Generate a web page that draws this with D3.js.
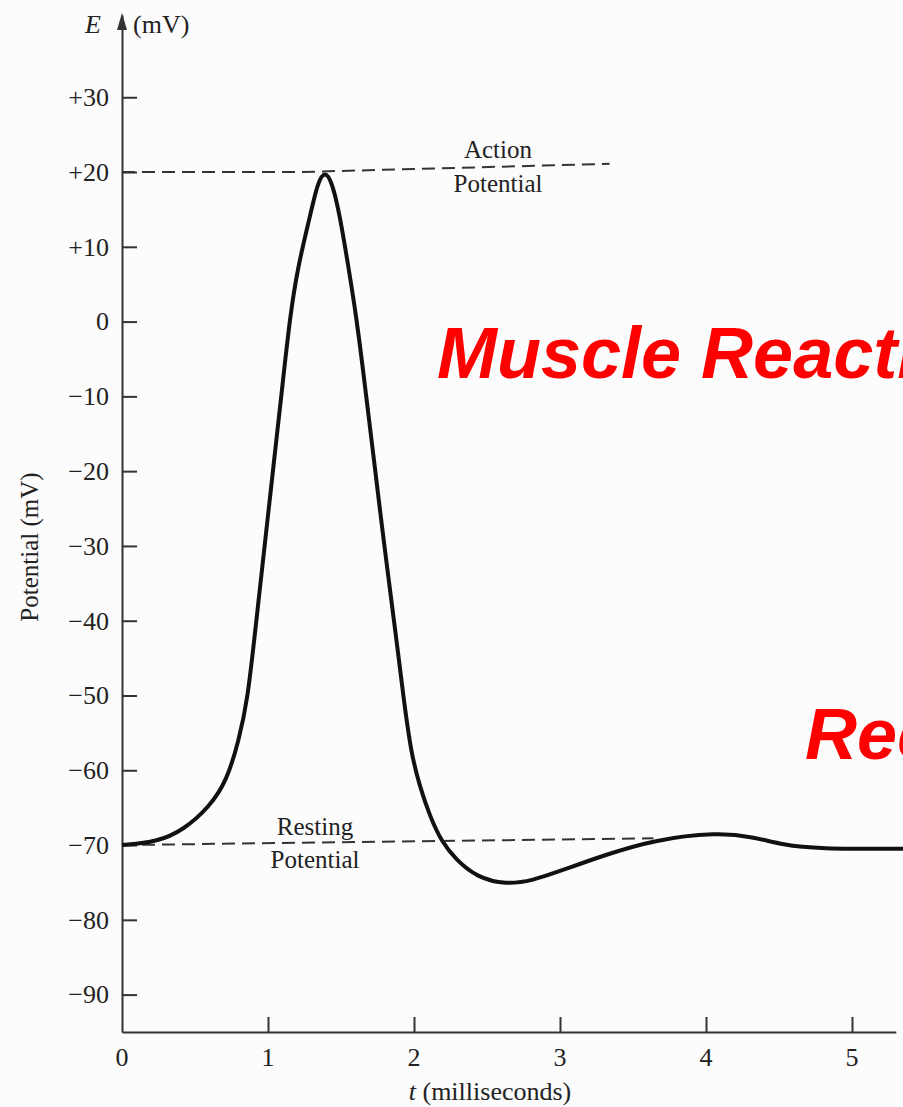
<!DOCTYPE html>
<html>
<head>
<meta charset="utf-8">
<script src="https://cdn.jsdelivr.net/npm/d3@7"></script>
<style>
  body { margin: 0; background: #fcfcfc; }
  svg { display: block; }
  .serif { font-family: 'Liberation Serif', 'Times New Roman', serif; fill: #222; }
</style>
</head>
<body>
<div id="chart"></div>
<script>
// time (ms) and membrane potential (mV)
const times = [0, 0.24, 0.42, 0.60, 0.72, 0.80, 0.86, 0.911, 0.961, 1.012, 1.050, 1.101, 1.151, 1.205, 1.288, 1.34, 1.39, 1.44, 1.493, 1.550, 1.605, 1.662, 1.717, 1.767, 1.815, 1.874, 1.93, 1.98, 2.04, 2.11, 2.19, 2.29, 2.43, 2.63, 2.82, 2.98, 3.14, 3.30, 3.64, 4.08, 4.32, 4.53, 4.76, 5.35]
const potentials = [-70, -69.6, -68.0, -64.9, -61.3, -56.0, -50.6, -41.6, -32.8, -23.8, -17.1, -8.2, 0.7, 7.4, 14.1, 18.6, 20.2, 18.6, 14.1, 7.4, 0.7, -8.2, -17.1, -25.2, -32.8, -41.6, -50.6, -57.7, -62.2, -66.2, -69.6, -72.0, -74.3, -75.3, -74.7, -73.6, -72.5, -71.4, -69.3, -68.3, -68.9, -70.0, -70.5, -70.5]

// dashed reference lines
const actionTimes = [0, 1.22, 3.34]
const actionValues = [20, 20, 21.1]
const restingTimes = [0, 3.64]
const restingValues = [-70, -69.1]

const yTicks = [30, 20, 10, 0, -10, -20, -30, -40, -50, -60, -70, -80, -90]
const xTicks = [1, 2, 3, 4, 5]
const xLabels = [0, 1, 2, 3, 4, 5]

const width = 903
const height = 1107

const svg = d3
  .select('#chart')
  .append('svg')
  .attr('width', width)
  .attr('height', height)

const xPositionScale = d3.scaleLinear().domain([0, 5.3]).range([122, 895.8])
const yPositionScale = d3.scaleLinear().domain([-95, 41]).range([1032, 15])

const line = d3
  .line()
  .x(d => xPositionScale(d[0]))
  .y(d => yPositionScale(d[1]))

// y axis
const yAxis = d3
  .axisLeft(yPositionScale)
  .tickValues(yTicks)
  .tickSizeInner(-15)
  .tickSizeOuter(0)
  .tickPadding(13)
  .tickFormat(d => {
    if (d > 0) return '+' + d
    if (d < 0) return '\u2212' + Math.abs(d)
    return '0'
  })

svg
  .append('g')
  .attr('class', 'y-axis')
  .attr('transform', 'translate(' + xPositionScale(0) + ',0)')
  .call(yAxis)

// x axis
const xAxis = d3
  .axisBottom(xPositionScale)
  .tickValues(xTicks)
  .tickSizeInner(-15)
  .tickSizeOuter(0)
  .tickFormat('')

svg
  .append('g')
  .attr('class', 'x-axis')
  .attr('transform', 'translate(0,' + yPositionScale(-95) + ')')
  .call(xAxis)

svg.selectAll('.domain, .tick line')
  .attr('stroke', '#333')
  .attr('stroke-width', 2)

svg.selectAll('.y-axis .tick text')
  .attr('class', 'serif')
  .style('font-size', '26px')
  .attr('fill', '#222')

// x tick labels (0 sits at the corner)
svg
  .selectAll('.x-label')
  .data(xLabels)
  .enter()
  .append('text')
  .attr('class', 'serif x-label')
  .attr('x', d => xPositionScale(d))
  .attr('y', yPositionScale(-95) + 34)
  .attr('text-anchor', 'middle')
  .style('font-size', '26px')
  .text(d => d)

// arrow on top of the y axis
const arrowTop = yPositionScale(41)
svg
  .append('path')
  .attr('d', 'M' + xPositionScale(0) + ',' + (arrowTop - 2) + ' l-5,17 l10,0 z')
  .attr('fill', '#333')

svg
  .append('text')
  .attr('class', 'serif')
  .attr('x', 101)
  .attr('y', 33)
  .attr('text-anchor', 'end')
  .style('font-size', '26px')
  .style('font-style', 'italic')
  .text('E')

svg
  .append('text')
  .attr('class', 'serif')
  .attr('x', 133)
  .attr('y', 33)
  .style('font-size', '26px')
  .text('(mV)')

svg
  .append('text')
  .attr('class', 'serif')
  .attr('transform', 'translate(38,547) rotate(-90)')
  .attr('text-anchor', 'middle')
  .style('font-size', '25px')
  .text('Potential (mV)')

const xTitle = svg
  .append('text')
  .attr('class', 'serif')
  .attr('x', 490)
  .attr('y', 1100)
  .attr('text-anchor', 'middle')
  .style('font-size', '26px')

xTitle.append('tspan').style('font-style', 'italic').text('t')
xTitle.append('tspan').text(' (milliseconds)')

// dashed lines
svg
  .append('path')
  .datum(actionTimes.map((t, i) => [t, actionValues[i]]))
  .attr('d', line)
  .attr('fill', 'none')
  .attr('stroke', '#333')
  .attr('stroke-width', 2)
  .attr('stroke-dasharray', '13,7')

svg
  .append('path')
  .datum(restingTimes.map((t, i) => [t, restingValues[i]]))
  .attr('d', line)
  .attr('fill', 'none')
  .attr('stroke', '#333')
  .attr('stroke-width', 2)
  .attr('stroke-dasharray', '13,7')

// labels on the dashed lines
const notes = [
  { text: 'Action', x: 498, y: 158 },
  { text: 'Potential', x: 498, y: 192 },
  { text: 'Resting', x: 315, y: 835 },
  { text: 'Potential', x: 315, y: 868 }
]

svg
  .selectAll('.note')
  .data(notes)
  .enter()
  .append('text')
  .attr('class', 'serif note')
  .attr('x', d => d.x)
  .attr('y', d => d.y)
  .attr('text-anchor', 'middle')
  .style('font-size', '25px')
  .text(d => d.text)

// the action potential trace
svg
  .append('path')
  .datum(times.map((t, i) => [t, potentials[i]]))
  .attr('d', line.curve(d3.curveBasis))
  .attr('fill', 'none')
  .attr('stroke', '#111')
  .attr('stroke-width', 4)
  .attr('stroke-linejoin', 'round')

// red overlay titles, cut off by the right edge
svg
  .append('text')
  .attr('x', 437)
  .attr('y', 378)
  .attr('fill', '#ff0000')
  .style('font-family', "'Liberation Sans', Arial, sans-serif")
  .style('font-weight', 'bold')
  .style('font-style', 'italic')
  .style('font-size', '72px')
  .text('Muscle Reaction')

svg
  .append('text')
  .attr('x', 805)
  .attr('y', 759)
  .attr('fill', '#ff0000')
  .style('font-family', "'Liberation Sans', Arial, sans-serif")
  .style('font-weight', 'bold')
  .style('font-style', 'italic')
  .style('font-size', '72px')
  .text('Recovery')
</script>
</body>
</html>
